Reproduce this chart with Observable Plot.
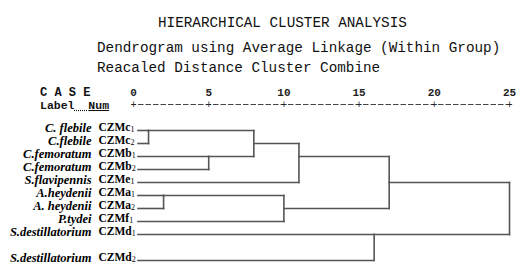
<!DOCTYPE html>
<html><head><meta charset="utf-8">
<script src="https://cdn.jsdelivr.net/npm/d3@7"></script>
<script src="https://cdn.jsdelivr.net/npm/@observablehq/plot@0.6"></script>
<style>
body{margin:0;background:#fff;}
#wrap{position:relative;width:522px;height:271px;overflow:hidden;font-family:"Courier New","Liberation Mono",monospace;color:#111;}
.t{position:absolute;white-space:pre;font-size:14.3px;line-height:1;}
.s{position:absolute;white-space:pre;font-size:12px;line-height:1;font-weight:bold;}
#chart{position:absolute;left:0;top:80px;}
</style></head><body>
<div id="wrap">
<div class="t" style="left:158px;top:16px">HIERARCHICAL CLUSTER ANALYSIS</div>
<div class="t" style="left:97px;top:41px">Dendrogram using Average Linkage (Within Group)</div>
<div class="t" style="left:97px;top:61px">Reacaled Distance Cluster Combine</div>
<div class="s" style="left:40px;top:87px">C A S E</div>
<div class="s" style="left:40px;top:100px;font-size:11.5px">Label<span style="text-decoration:underline dotted">  </span><u>Num</u></div>
<div id="chart"></div>
</div>
<script>
// Leaves (top to bottom)
const species = ["C. flebile","C.flebile","C.femoratum","C.femoratum","S.flavipennis","A.heydenii","A. heydenii","P.tydei","S.destillatorium","S.destillatorium"];
const caseCodes = ["CZMc1","CZMc2","CZMb1","CZMb2","CZMe1","CZMa1","CZMa2","CZMf1","CZMd1","CZMd2"];
const caseRows = [0,1,2,3,4,5,6,7,8,10];
const leafStart = 0.3;

// Merges (rescaled distance)
const mergeNames = ["C12","B12","CB","CBE","A12","AF","CBEAF","D12","ALL"];
const mergeLeft = ["CZMc1","CZMb1","C12","CB","CZMa1","A12","CBE","CZMd1","CBEAF"];
const mergeRight = ["CZMc2","CZMb2","B12","CZMe1","CZMa2","CZMf1","AF","CZMd2","D12"];
const mergeDistance = [1,5,8,11,2,10,17,16,25];
const mergeOutRow = [0,2,1,2,5,6,4,8,null];

const axisTicks = [0,5,10,15,20,25];

const leaves = species.map((s,i)=>({species:s, code:caseCodes[i], row:caseRows[i]}));
const nodes = new Map();
leaves.forEach(l=>nodes.set(l.code,{row:l.row, x:leafStart}));
mergeNames.forEach((n,i)=>nodes.set(n,{row:mergeOutRow[i], x:mergeDistance[i]}));
const segments = [];
mergeNames.forEach((n,i)=>{
  const d = mergeDistance[i];
  const a = nodes.get(mergeLeft[i]), b = nodes.get(mergeRight[i]);
  segments.push({x1:a.x, x2:d, y1:a.row, y2:a.row});
  segments.push({x1:b.x, x2:d, y1:b.row, y2:b.row});
  segments.push({x1:d, x2:d, y1:Math.min(a.row,b.row), y2:Math.max(a.row,b.row)});
});

const mono = "'Courier New','Liberation Mono',monospace";
const serif = "'Times New Roman','Liberation Serif',serif";

const chart = Plot.plot({
  width: 522, height: 191,
  marginLeft: 133, marginRight: 13, marginTop: 50, marginBottom: 11,
  x: {domain:[0,25], axis:null},
  y: {domain:[0,10], axis:null, reverse:true},
  style: {background:"transparent", overflow:"visible"},
  marks: [
    Plot.frame({anchor:"top", dy:-26, stroke:"#444", strokeWidth:1, strokeDasharray:"4.5 3", strokeDashoffset:-5}),
    Plot.text(axisTicks, {x:d=>d, text:d=>"+", frameAnchor:"top", lineAnchor:"middle", dy:-26, fontFamily:mono, fontSize:10, fill:"#222"}),
    Plot.text(axisTicks, {x:d=>d, text:d=>String(d), frameAnchor:"top", lineAnchor:"middle", dy:-38, fontFamily:mono, fontSize:11, fontWeight:"bold", fill:"#222"}),
    Plot.link(segments, {x1:"x1", x2:"x2", y1:"y1", y2:"y2", stroke:"#555", strokeWidth:1.6, strokeLinecap:"square"}),
    Plot.text(leaves, {y:"row", text:"species", frameAnchor:"left", textAnchor:"end", dx:-42, dy:-3, fontFamily:serif, fontStyle:"italic", fontWeight:"bold", fontSize:12.5, fill:"#000"}),
    Plot.text(leaves, {y:"row", text:"code", frameAnchor:"left", textAnchor:"start", dx:-35, dy:-3.5, fontFamily:serif, fontWeight:"bold", fontSize:11.5, fill:"#000"})
  ]
});
// render trailing digit of case codes as subscript
chart.querySelectorAll("text").forEach(t=>{
  const s = t.textContent;
  if (/^CZM[a-z]\d$/.test(s)) {
    t.textContent = "";
    const a = document.createElementNS("http://www.w3.org/2000/svg","tspan");
    a.textContent = s.slice(0,-1);
    const b = document.createElementNS("http://www.w3.org/2000/svg","tspan");
    b.textContent = s.slice(-1);
    b.setAttribute("font-size","8");
    b.setAttribute("font-weight","normal");
    b.setAttribute("dy","1.5");
    t.appendChild(a); t.appendChild(b);
  }
});
document.getElementById("chart").appendChild(chart);
</script>
</body></html>
